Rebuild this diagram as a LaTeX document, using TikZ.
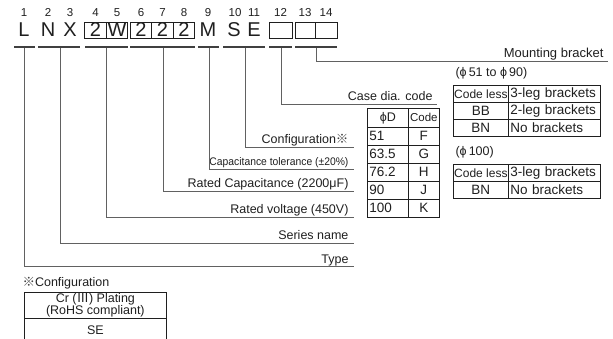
\documentclass[tikz,border=0pt]{standalone}
\usepackage{fontspec}
\usepackage{graphicx}
\setmainfont{Liberation Sans}
\newfontfamily\cjk{Noto Sans CJK JP}
\usetikzlibrary{positioning}
\definecolor{ink}{gray}{0.12}
\definecolor{rule}{gray}{0.38}

\begin{document}
\begin{tikzpicture}[x=1pt,y=-1pt,
    every node/.style={font=\fontsize{12.5}{14}\selectfont,text=ink},
    num/.style={font=\fontsize{11.5}{13}\selectfont,anchor=base},
    chr/.style={font=\fontsize{20}{22}\selectfont,minimum height=16pt,inner sep=0pt},
    cbox/.style={chr,draw=ink,line width=0.7pt,minimum width=21.5pt},
    uline/.style={draw=ink!85,line width=2pt},
    lead/.style={draw=rule,line width=0.8pt},
    lab/.style={anchor=base east},
    cell/.style={draw=ink,line width=0.7pt,inner sep=0pt,anchor=north west},
    big/.style={font=\fontsize{13.5}{15}\selectfont}
  ]
  \useasboundingbox (0,0) rectangle (613,339);
  % position numbers
  \foreach \n/\x in {1/24,2/48,3/70,4/95.5,5/117,6/141,7/162.5,8/184,9/208,10/235,11/254,12/280.5,13/305,14/326}
    \node[num] (n\n) at (\x,17) {\n};
  % code letters
  \foreach \t/\x/\id in {L/24/cL,N/48/cN,X/70/cX,M/208/cM,S/234/cS,E/254/cE}
    \node[chr] (\id) at (\x,30) {\t};
  \foreach \t/\x/\id in {2/95.5/cA,W/117/cB,2/141/cC,2/162.5/cD,2/184/cF}
    \node[cbox] (\id) at (\x,30) {\t};
  \node[cbox,minimum width=23pt] (cG) at (280.5,30) {};
  \node[cbox,minimum width=20pt] (cH) at (305,30) {};
  \node[cbox,minimum width=22pt] (cI) at (326,30) {};
  % underlines
  \foreach \a/\b in {14/35,38/80,85/128,130/195,198/219,223/265,269/292,295/337}
    \draw[uline] (\a,47.5) -- (\b,47.5);
  % leaders
  \coordinate (gL)    at (24,48.5);
  \coordinate (gNX)   at (60,48.5);
  \coordinate (gVolt) at (106,48.5);
  \coordinate (gCap)  at (163,48.5);
  \coordinate (gTol)  at (209,48.5);
  \coordinate (gConf) at (245,48.5);
  \coordinate (gCase) at (281,48.5);
  \coordinate (gMnt)  at (316,48.5);
  \coordinate (eType) at (354,266);
  \coordinate (eSer)  at (354,243);
  \coordinate (eVolt) at (354,217);
  \coordinate (eCap)  at (354,191);
  \coordinate (eTol)  at (354,169);
  \coordinate (eConf) at (354,147);
  \coordinate (eCase) at (437,104);
  \coordinate (eMnt)  at (608,61);
  \node[lab,font=\fontsize{13}{15}\selectfont] (lMnt) at (607,58) {Mounting bracket};
  \node[lab] (lCase) at (436,101) {Case dia. code};
  \node[lab] (lConf) at (352,144) {Configuration{\cjk\color{ink!85}※}};
  \node[lab,font=\fontsize{11}{13}\selectfont] (lTol) at (352,166) {\scalebox{0.94}[1]{Capacitance tolerance (±20\%)}};
  \node[lab] (lCap)  at (352,188) {Rated Capacitance (2200μF)};
  \node[lab] (lVolt) at (352,214) {Rated voltage (450V)};
  \node[lab] (lSer)  at (352,240) {Series name};
  \node[lab] (lType) at (352,263) {Type};
  \draw[lead] (gMnt) |- (eMnt);
  \draw[lead] (gCase) |- (eCase);
  \draw[lead] (gConf) |- (eConf);
  \draw[lead] (gTol) |- (eTol);
  \draw[lead] (gCap) |- (eCap);
  \draw[lead] (gVolt) |- (eVolt);
  \draw[lead] (gNX) |- (eSer);
  \draw[lead] (gL) |- (eType);
  % case dia. table
  \node[cell,minimum width=41pt,minimum height=19pt] (hD) at (367,108) {ϕD};
  \node[cell,minimum width=31pt,minimum height=19pt,font=\fontsize{11.5}{13}\selectfont] (hC) at (408,108) {Code};
  \foreach \d/\c [count=\i from 0] in {51/F,63.5/G,76.2/H,90/J,100/K} {
    \node[cell,big,minimum width=41pt,minimum height=18pt,text width=37pt,align=left] (d\i) at (367,{127+18*\i}) {\d};
    \node[cell,big,minimum width=31pt,minimum height=18pt] (k\i) at (408,{127+18*\i}) {\c};
  }
  % bracket tables
  \node[anchor=base west] (sA) at (452,77) {(ϕ\,51 to ϕ\,90)};
  \foreach \a/\b [count=\i from 0] in {{\fontsize{12}{14}\selectfont Code less}/3-leg brackets,BB/2-leg brackets,BN/No brackets} {
    \node[cell,big,minimum width=55pt,minimum height=17pt] (ba\i) at (453,{85+17*\i}) {\a};
    \node[cell,big,minimum width=92pt,minimum height=17pt,text width=88pt,align=left] (bb\i) at (508,{85+17*\i}) {\b};
  }
  \node[anchor=base west] (sB) at (452,156) {(ϕ\,100)};
  \foreach \a/\b [count=\i from 0] in {{\fontsize{12}{14}\selectfont Code less}/3-leg brackets,BN/No brackets} {
    \node[cell,big,minimum width=55pt,minimum height=17pt] (ca\i) at (453,{164+17*\i}) {\a};
    \node[cell,big,minimum width=92pt,minimum height=17pt,text width=88pt,align=left] (cb\i) at (508,{164+17*\i}) {\b};
  }
  % configuration note
  \node[anchor=base west] (cfg) at (19,286) {{\cjk\color{ink!85}※}Configuration};
  \node[cell,minimum width=142pt,minimum height=26pt,align=center,font=\fontsize{12.5}{11}\selectfont] (plat) at (24,292) {Cr ({\cjk Ⅲ}) Plating\\(RoHS compliant)};
  \node[cell,minimum width=142pt,minimum height=23pt] (se) at (24,318) {SE};
\end{tikzpicture}
\end{document}
